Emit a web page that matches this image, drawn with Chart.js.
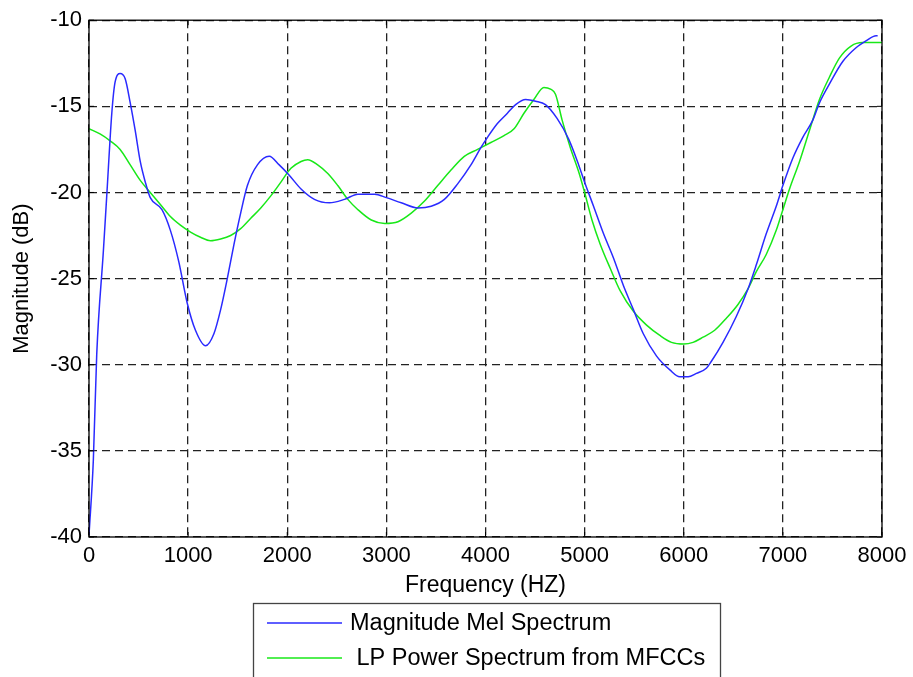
<!DOCTYPE html>
<html>
<head>
<meta charset="utf-8">
<script src="https://cdn.jsdelivr.net/npm/chart.js@4.4.1/dist/chart.umd.min.js"></script>
<style>
  html, body { margin: 0; padding: 0; background: #fff; }
  #wrap { width: 913px; height: 677px; position: relative; }
</style>
</head>
<body>
<div id="wrap"><canvas id="c" width="913" height="677"></canvas></div>
<script>
// Magnitude mel spectrum (Hz, dB)
const melFreq = [0, 44, 78, 145, 179, 230, 263, 314, 365, 416, 466, 517, 568, 618, 736, 821, 905, 990, 1074, 1176, 1260, 1328, 1395, 1463, 1530, 1598, 1699, 1818, 1919, 2020, 2139, 2274, 2426, 2578, 2713, 2882, 3000, 3150, 3318, 3452, 3585, 3719, 3853, 3953, 4020, 4120, 4221, 4304, 4405, 4505, 4605, 4722, 4839, 4940, 5000, 5090, 5191, 5291, 5391, 5492, 5592, 5726, 5860, 5960, 6044, 6128, 6228, 6279, 6396, 6530, 6648, 6732, 6832, 6933, 7000, 7101, 7201, 7302, 7369, 7470, 7604, 7738, 7839, 7940, 7956];
const melDb = [-39.9, -35.5, -29.4, -23.4, -20.2, -15.4, -13.6, -13.1, -13.4, -14.8, -16.4, -18.2, -19.4, -20.3, -21.0, -22.2, -24.0, -26.4, -28.0, -28.9, -28.2, -26.8, -25.0, -23.0, -21.2, -19.6, -18.4, -17.9, -18.4, -19.0, -19.8, -20.4, -20.6, -20.4, -20.1, -20.1, -20.3, -20.6, -20.9, -20.8, -20.4, -19.5, -18.4, -17.4, -16.8, -16.0, -15.4, -14.9, -14.6, -14.7, -14.9, -15.7, -16.9, -18.4, -19.4, -20.8, -22.4, -23.8, -25.4, -26.8, -28.2, -29.5, -30.3, -30.7, -30.7, -30.5, -30.2, -29.8, -28.7, -27.2, -25.6, -24.2, -22.4, -20.8, -19.6, -18.0, -16.8, -15.8, -14.8, -13.7, -12.4, -11.6, -11.2, -10.9, -10.9];

// LP power spectrum reconstructed from MFCCs (Hz, dB)
const lpFreq = [0, 111, 213, 314, 416, 517, 618, 720, 821, 922, 1024, 1125, 1226, 1328, 1429, 1530, 1632, 1733, 1834, 1936, 2037, 2139, 2206, 2307, 2409, 2510, 2611, 2713, 2848, 2983, 3117, 3251, 3385, 3518, 3652, 3786, 3920, 4054, 4187, 4288, 4388, 4488, 4589, 4656, 4706, 4773, 4856, 4940, 5000, 5074, 5157, 5258, 5358, 5492, 5625, 5759, 5876, 6000, 6094, 6195, 6312, 6430, 6547, 6648, 6732, 6832, 6933, 7000, 7067, 7168, 7268, 7369, 7470, 7570, 7688, 7805, 8000];
const lpDb = [-16.3, -16.6, -17.0, -17.5, -18.4, -19.3, -20.0, -20.7, -21.4, -21.9, -22.3, -22.6, -22.8, -22.7, -22.5, -22.1, -21.5, -20.9, -20.2, -19.4, -18.6, -18.2, -18.1, -18.4, -18.9, -19.6, -20.4, -21.0, -21.6, -21.8, -21.7, -21.2, -20.5, -19.6, -18.7, -17.9, -17.5, -17.1, -16.7, -16.3, -15.4, -14.6, -13.9, -14.0, -14.3, -15.8, -17.4, -18.8, -20.0, -21.6, -23.0, -24.4, -25.7, -26.9, -27.7, -28.3, -28.7, -28.8, -28.7, -28.4, -28.0, -27.3, -26.5, -25.6, -24.6, -23.6, -22.2, -21.0, -19.8, -18.2, -16.4, -14.6, -13.3, -12.2, -11.5, -11.3, -11.3];

const xTicks = [0, 1000, 2000, 3000, 4000, 5000, 6000, 7000, 8000];
const yTicks = [-40, -35, -30, -25, -20, -15, -10];
const seriesNames = ['Magnitude Mel Spectrum', ' LP Power Spectrum from MFCCs'];
const seriesColors = ['#2a2aff', '#18e818'];

const FONT = '"Liberation Sans", Arial, sans-serif';
const toPoints = (xs, ys) => xs.map((x, i) => ({ x, y: ys[i] }));

// Solid frame with inward tick marks, plus the boxed legend below the axis title
const framePlugin = {
  id: 'frame',
  afterDraw(chart) {
    const { ctx, chartArea: a, scales } = chart;
    ctx.save();
    ctx.strokeStyle = '#000';
    ctx.lineWidth = 1.3;
    ctx.strokeRect(a.left, a.top, a.right - a.left, a.bottom - a.top);

    const tl = 5;
    ctx.lineWidth = 1;
    ctx.beginPath();
    xTicks.forEach(v => {
      const px = scales.x.getPixelForValue(v);
      ctx.moveTo(px, a.bottom); ctx.lineTo(px, a.bottom - tl);
      ctx.moveTo(px, a.top); ctx.lineTo(px, a.top + tl);
    });
    yTicks.forEach(v => {
      const py = scales.y.getPixelForValue(v);
      ctx.moveTo(a.left, py); ctx.lineTo(a.left + tl, py);
      ctx.moveTo(a.right, py); ctx.lineTo(a.right - tl, py);
    });
    ctx.stroke();

    // legend box
    ctx.strokeStyle = '#444';
    ctx.lineWidth = 1.3;
    ctx.strokeRect(253.5, 603.5, 467, 80);
    ctx.font = '23.5px ' + FONT;
    ctx.textBaseline = 'middle';
    ctx.fillStyle = '#000';
    const rows = [623, 658];
    rows.forEach((yy, i) => {
      ctx.strokeStyle = seriesColors[i];
      ctx.lineWidth = 1.5;
      ctx.beginPath();
      ctx.moveTo(267, yy);
      ctx.lineTo(342, yy);
      ctx.stroke();
      ctx.fillText(seriesNames[i], 350, yy + 1);
    });
    ctx.restore();
  }
};

const gridOpts = { color: '#222', lineWidth: 1.3, tickLength: 0, drawTicks: false };

new Chart(document.getElementById('c'), {
  type: 'line',
  data: {
    datasets: [
      {
        label: seriesNames[0],
        data: toPoints(melFreq, melDb),
        borderColor: seriesColors[0],
        borderWidth: 1.5,
        pointRadius: 0,
        cubicInterpolationMode: 'monotone',
        fill: false
      },
      {
        label: seriesNames[1],
        data: toPoints(lpFreq, lpDb),
        borderColor: seriesColors[1],
        borderWidth: 1.5,
        pointRadius: 0,
        cubicInterpolationMode: 'monotone',
        fill: false
      }
    ]
  },
  options: {
    responsive: false,
    animation: false,
    layout: { padding: { left: 0, right: 31, top: 20, bottom: 78 } },
    plugins: { legend: { display: false }, tooltip: { enabled: false } },
    scales: {
      x: {
        type: 'linear',
        min: 0,
        max: 8000,
        afterBuildTicks: (s) => { s.ticks = xTicks.map(v => ({ value: v })); },
        afterFit: (s) => { s.height = 62; },
        border: { display: false, dash: [8, 5] },
        grid: gridOpts,
        ticks: {
          color: '#000',
          padding: 6,
          maxRotation: 0,
          font: { family: FONT, size: 22 },
          callback: (v) => String(v)
        },
        title: {
          display: true,
          text: 'Frequency (HZ)',
          color: '#000',
          padding: { top: 0, bottom: 0 },
          font: { family: FONT, size: 23 }
        }
      },
      y: {
        type: 'linear',
        min: -40,
        max: -10,
        afterBuildTicks: (s) => { s.ticks = yTicks.map(v => ({ value: v })); },
        afterFit: (s) => { s.width = 89; },
        border: { display: false, dash: [8, 5] },
        grid: gridOpts,
        ticks: {
          color: '#000',
          padding: 7,
          font: { family: FONT, size: 22 },
          callback: (v) => String(v)
        },
        title: {
          display: true,
          text: 'Magnitude (dB)',
          color: '#000',
          padding: { top: 9, bottom: 0 },
          font: { family: FONT, size: 22 }
        }
      }
    }
  },
  plugins: [framePlugin]
});
</script>
</body>
</html>
